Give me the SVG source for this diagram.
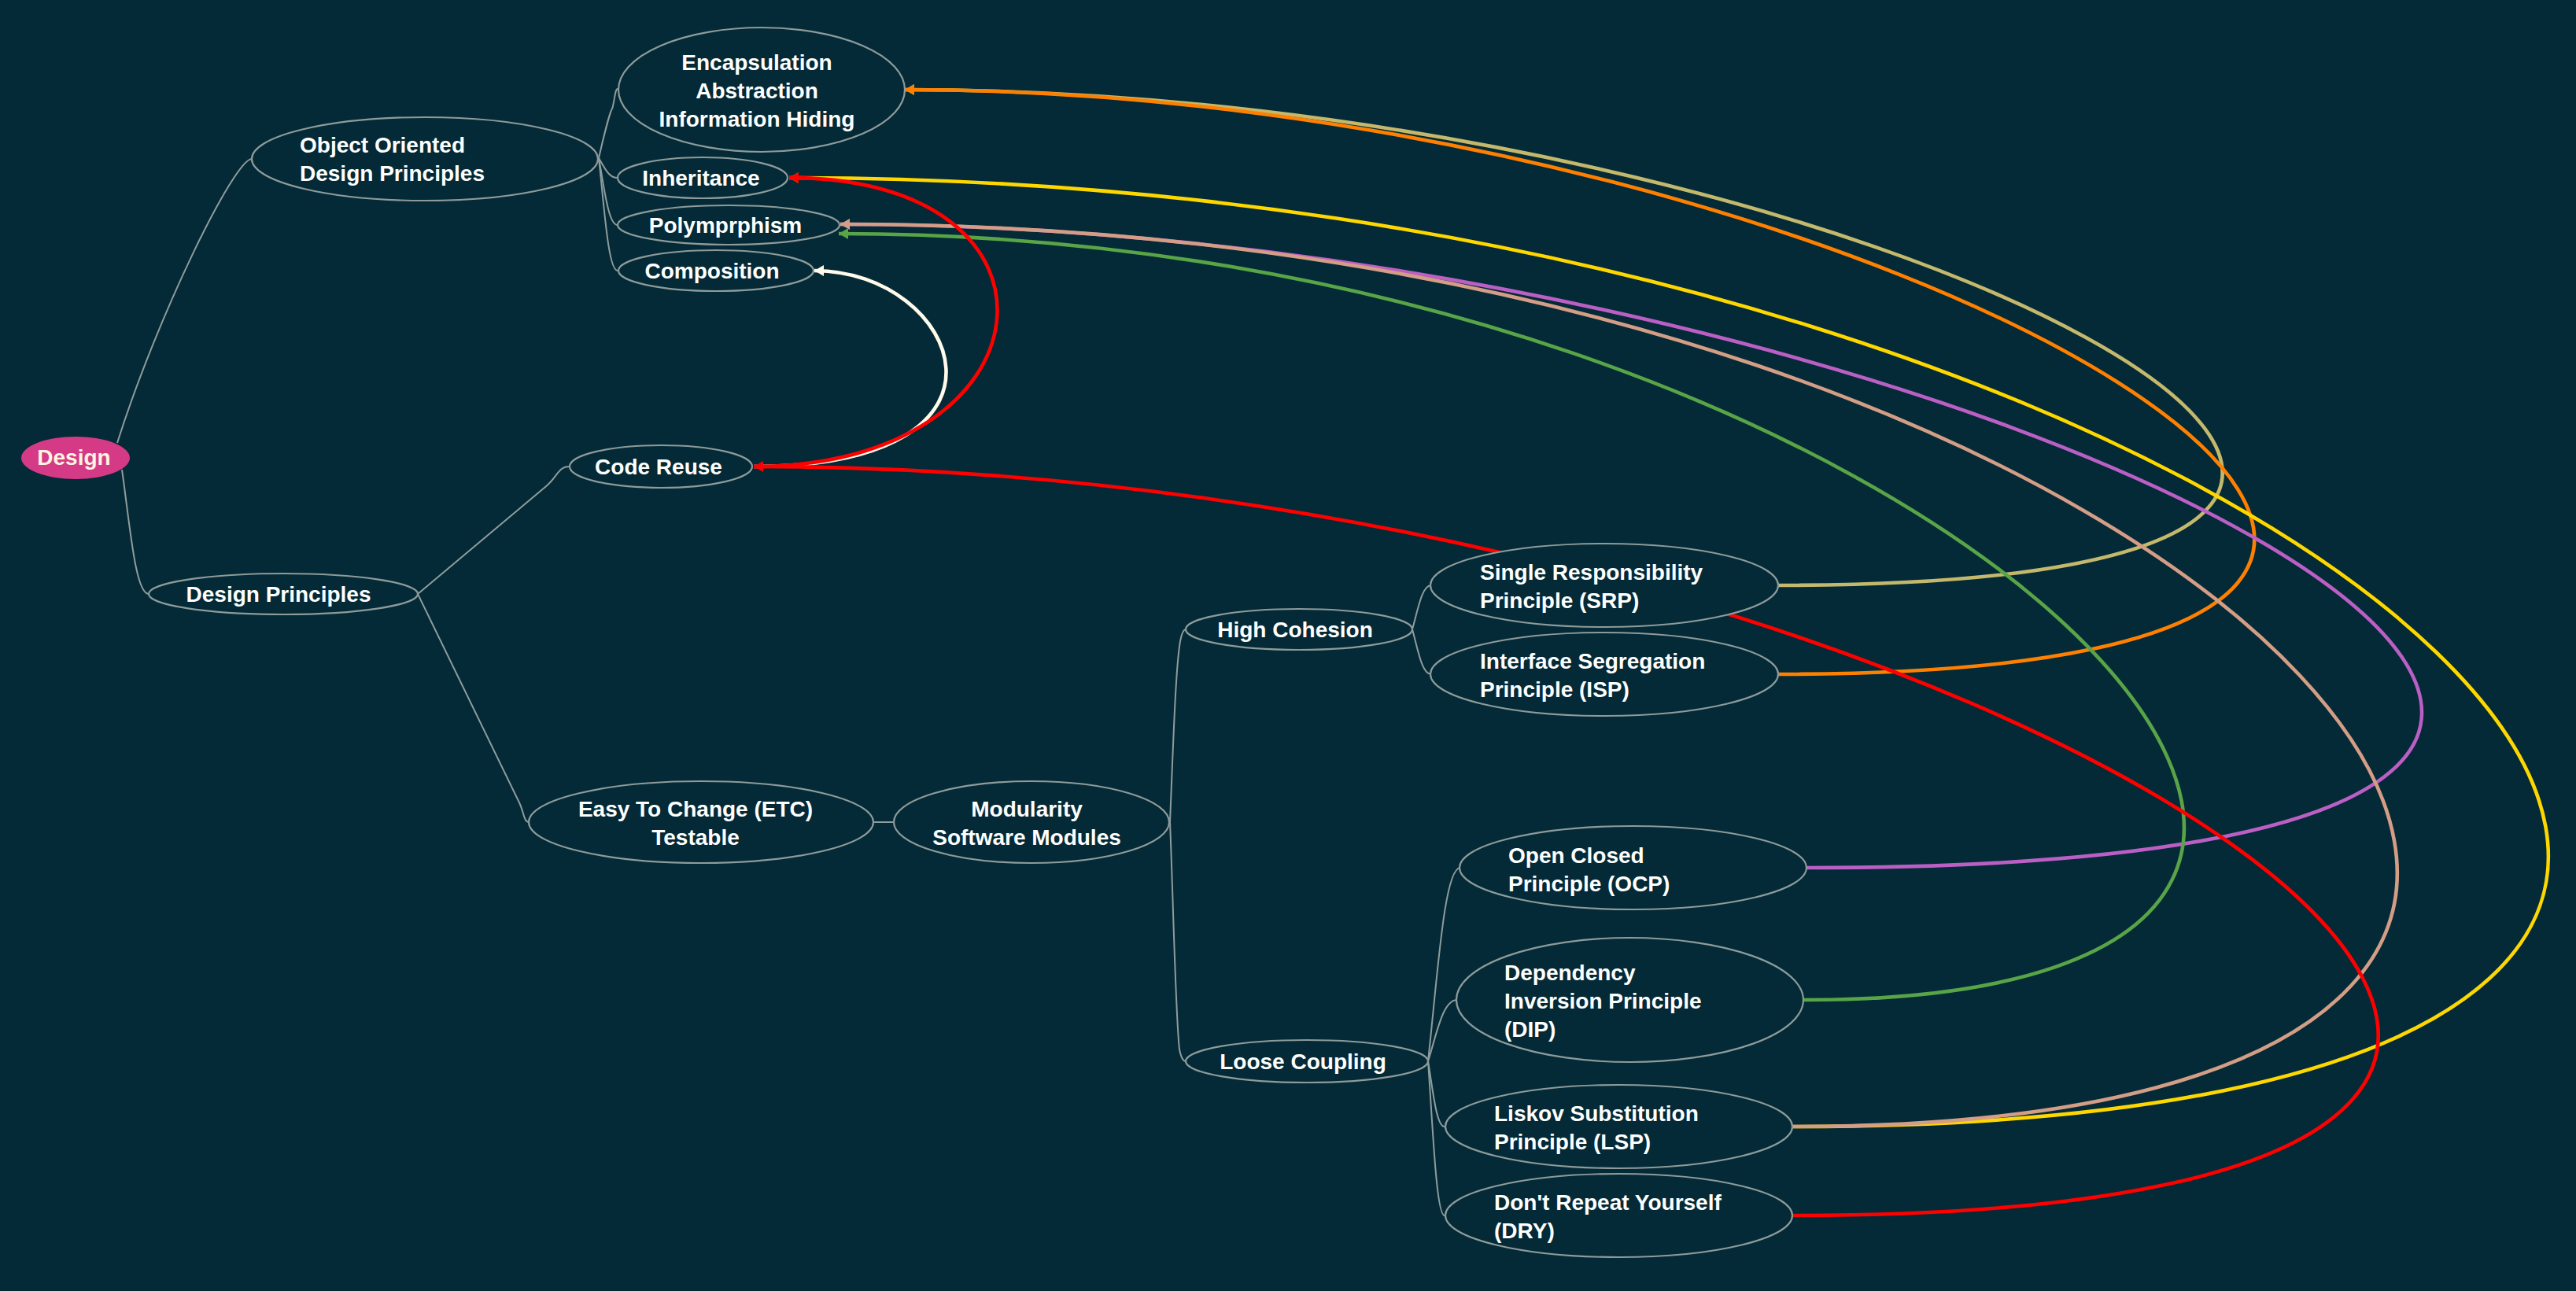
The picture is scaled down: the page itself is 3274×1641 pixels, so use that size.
<svg xmlns="http://www.w3.org/2000/svg" width="3274" height="1641" viewBox="0 0 3274 1641">
<style>
.bg{fill:#032a36}
.node ellipse{fill:#032a36;stroke:#8e9b9b;stroke-width:2.2}
.node text{font-family:"Liberation Sans",Arial,sans-serif;font-weight:bold;font-size:28px;fill:#ffffff}
.mid{text-anchor:middle}
.tree path{fill:none;stroke:#8f9c9d;stroke-width:2}
.rel path{fill:none;stroke-width:4.6}
#root ellipse{fill:#d43a86;stroke:none}
#root text{fill:#fff4e0}
</style>
<defs>
<marker id="aOrange" markerUnits="userSpaceOnUse" viewBox="0 0 12 14" markerWidth="12" markerHeight="14" refX="12" refY="7" orient="auto"><path d="M0,0 L12,7 L0,14 z" fill="#ff8000"/></marker>
<marker id="aKhaki" markerUnits="userSpaceOnUse" viewBox="0 0 12 14" markerWidth="12" markerHeight="14" refX="12" refY="7" orient="auto"><path d="M0,0 L12,7 L0,14 z" fill="#c4b86c"/></marker>
<marker id="aYellow" markerUnits="userSpaceOnUse" viewBox="0 0 12 14" markerWidth="12" markerHeight="14" refX="12" refY="7" orient="auto"><path d="M0,0 L12,7 L0,14 z" fill="#ffd700"/></marker>
<marker id="aPurple" markerUnits="userSpaceOnUse" viewBox="0 0 12 14" markerWidth="12" markerHeight="14" refX="12" refY="7" orient="auto"><path d="M0,0 L12,7 L0,14 z" fill="#bb5fc5"/></marker>
<marker id="aTan" markerUnits="userSpaceOnUse" viewBox="0 0 12 14" markerWidth="12" markerHeight="14" refX="12" refY="7" orient="auto"><path d="M0,0 L12,7 L0,14 z" fill="#d49d86"/></marker>
<marker id="aGreen" markerUnits="userSpaceOnUse" viewBox="0 0 12 14" markerWidth="12" markerHeight="14" refX="12" refY="7" orient="auto"><path d="M0,0 L12,7 L0,14 z" fill="#58a447"/></marker>
<marker id="aWhite" markerUnits="userSpaceOnUse" viewBox="0 0 12 14" markerWidth="12" markerHeight="14" refX="12" refY="7" orient="auto"><path d="M0,0 L12,7 L0,14 z" fill="#fffaea"/></marker>
<marker id="aRed" markerUnits="userSpaceOnUse" viewBox="0 0 12 14" markerWidth="12" markerHeight="14" refX="12" refY="7" orient="auto"><path d="M0,0 L12,7 L0,14 z" fill="#ff0000"/></marker>
</defs>
<rect class="bg" x="0" y="0" width="3274" height="1641"/>
<g id="connectors">
<g class="tree">
<path d="M149,563 C200.3,400.6 298,202 320,202"/>
<path d="M155,597 C165.2,668.1 172,755 189,755"/>
<path d="M761,201 C768,170 776,140 778.2,138 C781.6,125.5 781.6,113 785,113"/>
<path d="M761,201 C768.2,212.3 773,226 785,226"/>
<path d="M761,201 C768.2,239.3 773,286 785,286"/>
<path d="M761,201 C768.2,265.4 773,344 785,344"/>
<path d="M531,755 L694.2,618 C709.1,605.5 709.1,593 724,593"/>
<path d="M531,755 L659.9,1020 C665.9,1032.5 665.9,1045 672,1045"/>
<path d="M1110,1045 L1136,1045"/>
<path d="M1487,1045 C1491,950 1494,850 1500,815 Q1503,800 1507,800"/>
<path d="M1487,1045 C1491,1140 1494,1290 1499,1334 Q1502,1349 1507,1349"/>
<path d="M1795,800 C1802.2,774.8 1807,744 1819,744"/>
<path d="M1795,800 C1802.2,825.7 1807,857 1819,857"/>
<path d="M1815,1349 C1827.3,1238.3 1835.5,1103 1856,1103"/>
<path d="M1815,1349 C1826.1,1313.9 1833.5,1271 1852,1271"/>
<path d="M1815,1349 C1821.3,1386.4 1825.5,1432 1836,1432"/>
<path d="M1815,1349 C1821.3,1437.2 1825.5,1545 1836,1545"/>
</g>
<g class="rel">
<path d="M2260,744 C3558,744 2375,114 1150,114" stroke="#c4b86c" marker-end="url(#aKhaki)"/>
<path d="M2260,857 C3638,857 2401,114 1150,114" stroke="#ff8000" marker-end="url(#aOrange)"/>
<path d="M2278,1432 C4196,1432 2967,226 1003,226" stroke="#ffd700" marker-end="url(#aYellow)"/>
<path d="M2296,1103 C4039,1103 2528,285 1068,285" stroke="#bb5fc5" marker-end="url(#aPurple)"/>
<path d="M2278,1432 C3809,1432 2870,285 1068,285" stroke="#d49d86" marker-end="url(#aTan)"/>
<path d="M2292,1271 C3392,1271 2459,297 1066,297" stroke="#58a447" marker-end="url(#aGreen)"/>
<path d="M958,593 C1323,593 1219,344 1035,344" stroke="#fffaea" marker-end="url(#aWhite)"/>
<path d="M958,593 C1342,593 1382,226 1003,226" stroke="#ff0000" marker-end="url(#aRed)"/>
<path d="M2278,1545 C3930,1545 2539,593 958,593" stroke="#ff0000" marker-end="url(#aRed)"/>
</g>
</g>
<g id="root" class="node"><ellipse cx="96" cy="582" rx="69" ry="27"/><text class="mid" x="94" y="591">Design</text></g>
<g id="oo" class="node"><ellipse cx="540" cy="202" rx="220" ry="53"/><text x="381" y="194">Object Oriented</text><text x="381" y="230">Design Principles</text></g>
<g id="encapsulation" class="node"><ellipse cx="968" cy="114" rx="182" ry="79"/><text class="mid" x="962" y="89">Encapsulation</text><text class="mid" x="962" y="125">Abstraction</text><text class="mid" x="962" y="161">Information Hiding</text></g>
<g id="inheritance" class="node"><ellipse cx="893" cy="226" rx="108" ry="26"/><text class="mid" x="891" y="236">Inheritance</text></g>
<g id="polymorphism" class="node"><ellipse cx="926" cy="286" rx="141" ry="25"/><text class="mid" x="922" y="296">Polymprphism</text></g>
<g id="composition" class="node"><ellipse cx="910" cy="344" rx="124" ry="26"/><text class="mid" x="905" y="354">Composition</text></g>
<g id="codereuse" class="node"><ellipse cx="840" cy="593" rx="116" ry="27"/><text class="mid" x="837" y="603">Code Reuse</text></g>
<g id="designprinciples" class="node"><ellipse cx="360" cy="755" rx="171" ry="26"/><text class="mid" x="354" y="765">Design Principles</text></g>
<g id="etc" class="node"><ellipse cx="891" cy="1045" rx="219" ry="52"/><text class="mid" x="884" y="1038">Easy To Change (ETC)</text><text class="mid" x="884" y="1074">Testable</text></g>
<g id="modularity" class="node"><ellipse cx="1311" cy="1045" rx="175" ry="52"/><text class="mid" x="1305" y="1038">Modularity</text><text class="mid" x="1305" y="1074">Software Modules</text></g>
<g id="highcohesion" class="node"><ellipse cx="1651" cy="800" rx="144" ry="26"/><text class="mid" x="1646" y="810">High Cohesion</text></g>
<g id="loosecoupling" class="node"><ellipse cx="1661" cy="1349" rx="154" ry="27"/><text class="mid" x="1656" y="1359">Loose Coupling</text></g>
<g id="srp" class="node"><ellipse cx="2039" cy="744" rx="221" ry="53"/><text x="1881" y="737">Single Responsibility</text><text x="1881" y="773">Principle (SRP)</text></g>
<g id="isp" class="node"><ellipse cx="2039" cy="857" rx="221" ry="53"/><text x="1881" y="850">Interface Segregation</text><text x="1881" y="886">Principle (ISP)</text></g>
<g id="ocp" class="node"><ellipse cx="2075.5" cy="1103" rx="220.5" ry="53"/><text x="1917" y="1097">Open Closed</text><text x="1917" y="1133">Principle (OCP)</text></g>
<g id="dip" class="node"><ellipse cx="2071.5" cy="1271" rx="220.5" ry="79"/><text x="1912" y="1246">Dependency</text><text x="1912" y="1282">Inversion Principle</text><text x="1912" y="1318">(DIP)</text></g>
<g id="lsp" class="node"><ellipse cx="2057.5" cy="1432" rx="220.5" ry="53"/><text x="1899" y="1425">Liskov Substitution</text><text x="1899" y="1461">Principle (LSP)</text></g>
<g id="dry" class="node"><ellipse cx="2057.5" cy="1545" rx="220.5" ry="53"/><text x="1899" y="1538">Don't Repeat Yourself</text><text x="1899" y="1574">(DRY)</text></g>
</svg>
